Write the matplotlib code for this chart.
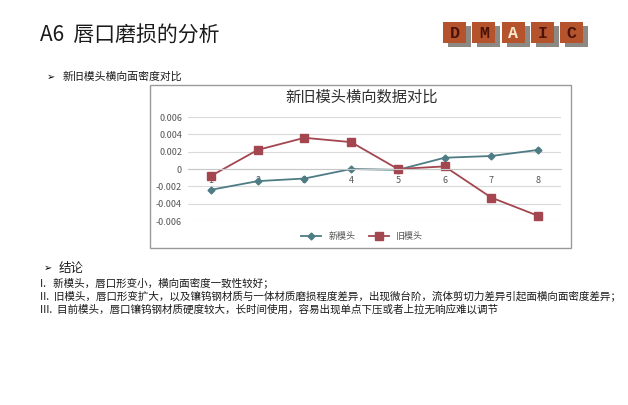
import matplotlib
matplotlib.use('Agg')
import matplotlib.pyplot as plt
from matplotlib.patches import Rectangle

plt.rcParams['font.family'] = ['Noto Sans CJK SC', 'DejaVu Sans']

# 数据
positions = [1, 2, 3, 4, 5, 6, 7, 8]
new_head = [-0.0024, -0.0014, -0.0011, 0.0000, -0.0001, 0.0013, 0.0015, 0.0022]
old_head = [-0.0008, 0.0022, 0.0036, 0.0031, 0.0000, 0.0003, -0.0033, -0.0054]
y_ticks = [-0.006, -0.004, -0.002, 0, 0.002, 0.004, 0.006]
y_tick_labels = ['-0.006', '-0.004', '-0.002', '0', '0.002', '0.004', '0.006']
dmaic = ['D', 'M', 'A', 'I', 'C']
conclusions = [
    'I.   新模头，唇口形变小，横向面密度一致性较好；',
    'II.  旧模头，唇口形变扩大，以及镶钨钢材质与一体材质磨损程度差异，出现微台阶，流体剪切力差异引起面横向面密度差异；',
    'III.  目前模头，唇口镶钨钢材质硬度较大，长时间使用，容易出现单点下压或者上拉无响应难以调节',
]

W, H = 628, 405
fig = plt.figure(figsize=(W / 100, H / 100), dpi=100)
fig.patch.set_facecolor('white')


def fx(px):
    return px / W


def fy(py):
    return 1 - py / H


# 标题
fig.text(fx(40), fy(36), 'A6  唇口磨损的分析', fontsize=15, va='center', ha='left', color='#1a1a1a')

# DMAIC 方块
for i, letter in enumerate(dmaic):
    x0 = 443 + i * 29.3
    fig.patches.append(Rectangle((fx(x0 + 5), fy(47)), fx(23), 21 / H,
                                 transform=fig.transFigure, facecolor='#8c8884', edgecolor='none'))
    fig.patches.append(Rectangle((fx(x0), fy(43)), fx(23), 21 / H,
                                 transform=fig.transFigure, facecolor='#B4532C', edgecolor='none'))
    col = '#fbe8cc' if letter == 'A' else '#4a1208'
    fig.text(fx(x0 + 11.5), fy(33), letter, fontsize=12, ha='center', va='center',
             color=col, family='Liberation Mono', fontweight='bold')

# 小标题
fig.text(fx(47), fy(77), '➢', fontsize=7, va='center', ha='left', family=['DejaVu Sans'])
fig.text(fx(63), fy(77), '新旧模头横向面密度对比', fontsize=7.8, va='center', ha='left', color='#1a1a1a')

# 图表外框
fig.patches.append(Rectangle((fx(150), fy(248)), fx(421), 163 / H,
                             transform=fig.transFigure, facecolor='white', edgecolor='#9a9a9a',
                             lw=1, zorder=-1))
fig.text(fx(362), fy(97), '新旧模头横向数据对比', fontsize=11, ha='center', va='center',
         color='#303030')

ax = fig.add_axes([fx(187.6), fy(221), fx(561.4 - 187.6), (221 - 117) / H])
ax.set_zorder(3)
ax.set_facecolor('none')
ax.plot(positions, new_head, color='#4E7C84', marker='D', markersize=3.5, lw=1.3, label='新模头')
ax.plot(positions, old_head, color='#A3464F', marker='s', markersize=6, lw=1.3, label='旧模头')
ax.set_xlim(0.5, 8.5)
ax.set_ylim(-0.006, 0.006)
ax.set_yticks(y_ticks)
ax.set_yticklabels(y_tick_labels)
ax.set_xticks(positions)
ax.set_xticklabels([str(p) for p in positions])
ax.grid(axis='y', color='#dadada', lw=0.8)
ax.set_axisbelow(True)
for s in ['top', 'right', 'left']:
    ax.spines[s].set_visible(False)
ax.spines['bottom'].set_position(('data', 0))
ax.spines['bottom'].set_color('#c8c8c8')
ax.tick_params(axis='both', length=0, labelsize=6.5, labelcolor='#555555')
ax.tick_params(axis='x', pad=5)
ax.tick_params(axis='y', pad=4)

fig.legend(loc='center', bbox_to_anchor=(fx(362), fy(237)), ncol=2, frameon=False,
           fontsize=6.5, handlelength=2.2, columnspacing=1.5, labelcolor='#555555')

# 结论
fig.text(fx(44), fy(268), '➢', fontsize=7, va='center', ha='left', family=['DejaVu Sans'])
fig.text(fx(59), fy(268), '结论', fontsize=9, va='center', ha='left', color='#1a1a1a')
for i, line in enumerate(conclusions):
    fig.text(fx(40), fy(283 + i * 13), line, fontsize=7.6, va='center', ha='left', color='#1a1a1a')

fig.savefig('out.png', dpi=100)
